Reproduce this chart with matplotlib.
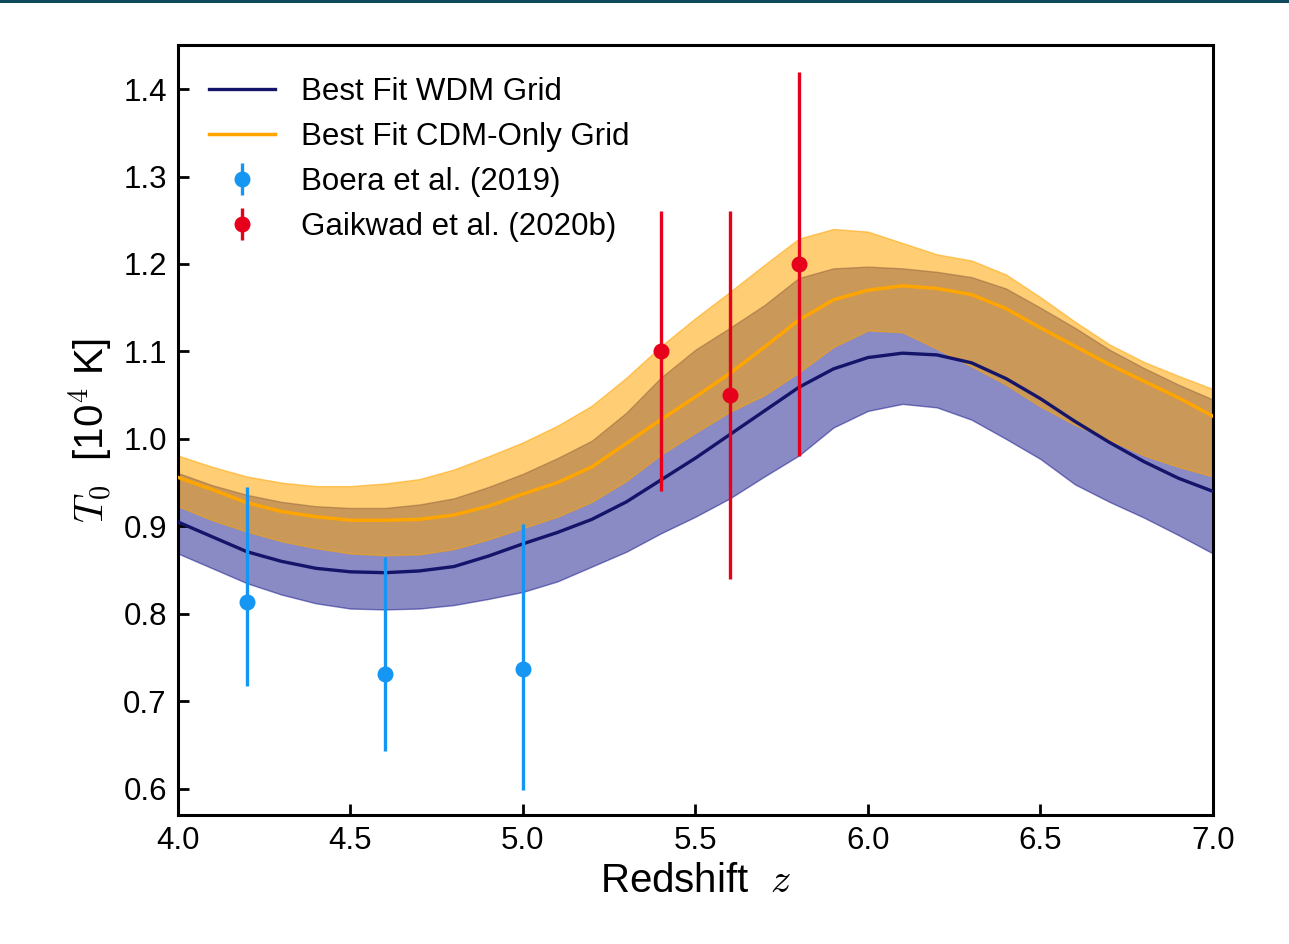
import matplotlib
matplotlib.use("Agg")
import matplotlib.pyplot as plt
from matplotlib.patches import Rectangle

plt.rcParams['font.family'] = ['Liberation Sans', 'DejaVu Sans']
plt.rcParams['mathtext.fontset'] = 'cm'

# Redshift grid of the best-fit temperature curves
z = [4.0, 4.1, 4.2, 4.3, 4.4, 4.5, 4.6, 4.7, 4.8, 4.9, 5.0,
     5.1, 5.2, 5.3, 5.4, 5.5, 5.6, 5.7, 5.8, 5.9, 6.0,
     6.1, 6.2, 6.3, 6.4, 6.5, 6.6, 6.7, 6.8, 6.9, 7.0]

# Best-fit WDM grid: median and 68% band (10^4 K)
wdm_mid = [0.905, 0.888, 0.871, 0.860, 0.852, 0.848, 0.847, 0.849, 0.854, 0.866, 0.880,
           0.893, 0.908, 0.928, 0.953, 0.978, 1.005, 1.032, 1.059, 1.080, 1.093,
           1.098, 1.096, 1.087, 1.069, 1.046, 1.020, 0.996, 0.974, 0.955, 0.940]
wdm_lo = [0.869, 0.852, 0.835, 0.822, 0.812, 0.806, 0.805, 0.806, 0.810, 0.817, 0.825,
          0.837, 0.854, 0.871, 0.892, 0.911, 0.932, 0.957, 0.981, 1.013, 1.032,
          1.040, 1.036, 1.022, 1.000, 0.977, 0.948, 0.928, 0.910, 0.890, 0.869]
wdm_hi = [0.961, 0.947, 0.936, 0.928, 0.923, 0.921, 0.921, 0.925, 0.932, 0.945, 0.960,
          0.978, 0.998, 1.030, 1.070, 1.102, 1.127, 1.153, 1.184, 1.195, 1.197,
          1.195, 1.191, 1.185, 1.172, 1.150, 1.127, 1.102, 1.081, 1.062, 1.045]

# Best-fit CDM-only grid: median and 68% band (10^4 K)
cdm_mid = [0.956, 0.942, 0.927, 0.917, 0.911, 0.907, 0.907, 0.908, 0.913, 0.923, 0.937,
           0.950, 0.968, 0.995, 1.022, 1.048, 1.075, 1.105, 1.136, 1.159, 1.170,
           1.175, 1.172, 1.165, 1.149, 1.127, 1.106, 1.085, 1.066, 1.047, 1.026]
cdm_lo = [0.923, 0.907, 0.894, 0.883, 0.875, 0.869, 0.867, 0.868, 0.874, 0.885, 0.898,
          0.911, 0.928, 0.952, 0.982, 1.007, 1.031, 1.050, 1.076, 1.105, 1.124,
          1.122, 1.103, 1.083, 1.062, 1.037, 1.016, 0.999, 0.981, 0.968, 0.957]
cdm_hi = [0.981, 0.968, 0.957, 0.950, 0.946, 0.946, 0.949, 0.954, 0.965, 0.980, 0.996,
          1.015, 1.038, 1.070, 1.106, 1.138, 1.168, 1.199, 1.229, 1.240, 1.237,
          1.224, 1.211, 1.204, 1.188, 1.162, 1.134, 1.108, 1.088, 1.072, 1.057]

# Observational measurements
boera_z = [4.2, 4.6, 5.0]
boera_T = [0.813, 0.731, 0.737]
boera_err_lo = [0.096, 0.088, 0.139]
boera_err_hi = [0.132, 0.134, 0.166]

gaikwad_z = [5.4, 5.6, 5.8]
gaikwad_T = [1.10, 1.05, 1.20]
gaikwad_err = [0.16, 0.21, 0.22]

xticks = [4.0, 4.5, 5.0, 5.5, 6.0, 6.5, 7.0]
yticks = [0.6, 0.7, 0.8, 0.9, 1.0, 1.1, 1.2, 1.3, 1.4]

fig = plt.figure(figsize=(12.89, 9.44), dpi=100)
ax = fig.add_axes([0.138, 0.1367, 0.803, 0.8153])

# thin banner line along the top edge
fig.patches.append(Rectangle((0, 0.997), 1, 0.003, transform=fig.transFigure,
                             facecolor='#0e4a5c', edgecolor='none'))

ax.fill_between(z, wdm_lo, wdm_hi, color='navy', alpha=0.46, linewidth=1.0, zorder=1)
ax.fill_between(z, cdm_lo, cdm_hi, color='orange', alpha=0.55, linewidth=1.0, zorder=2)
ax.plot(z, cdm_mid, color='orange', lw=2.5, zorder=3, label='Best Fit CDM-Only Grid',
        solid_joinstyle='round')
ax.plot(z, wdm_mid, color='#14146a', lw=2.4, zorder=4, label='Best Fit WDM Grid',
        solid_joinstyle='round')

ax.errorbar(boera_z, boera_T, yerr=[boera_err_lo, boera_err_hi], fmt='o',
            color='#1596f2', ms=10.5, elinewidth=2.4, capsize=0, zorder=5,
            label='Boera et al. (2019)')
ax.errorbar(gaikwad_z, gaikwad_T, yerr=gaikwad_err, fmt='o',
            color='#e6001c', ms=10.5, elinewidth=2.4, capsize=0, zorder=5,
            label='Gaikwad et al. (2020b)')

ax.set_xlim(4.0, 7.0)
ax.set_ylim(0.57, 1.45)
ax.set_xticks(xticks)
ax.set_xticklabels([f'{v:.1f}' for v in xticks])
ax.set_yticks(yticks)
ax.set_yticklabels([f'{v:.1f}' for v in yticks])
ax.tick_params(direction='in', length=8, width=2, labelsize=22.5, pad=8,
               top=False, right=False)
for s in ax.spines.values():
    s.set_linewidth(2.2)

ax.set_xlabel(r'Redshift  $z$', fontsize=29, labelpad=4)
ax.set_ylabel(r'$T_0$  [10$^{\mathsf{4}}$ K]', fontsize=29, labelpad=6)

h, l = ax.get_legend_handles_labels()
order = [1, 0, 2, 3]
ax.legend([h[i] for i in order], [l[i] for i in order], loc='upper left',
          frameon=False, fontsize=22.5, handlelength=2.1, handletextpad=0.85,
          labelspacing=0.48, borderaxespad=0.0, bbox_to_anchor=(0.018, 0.975))

fig.savefig('out.png', dpi=100)
